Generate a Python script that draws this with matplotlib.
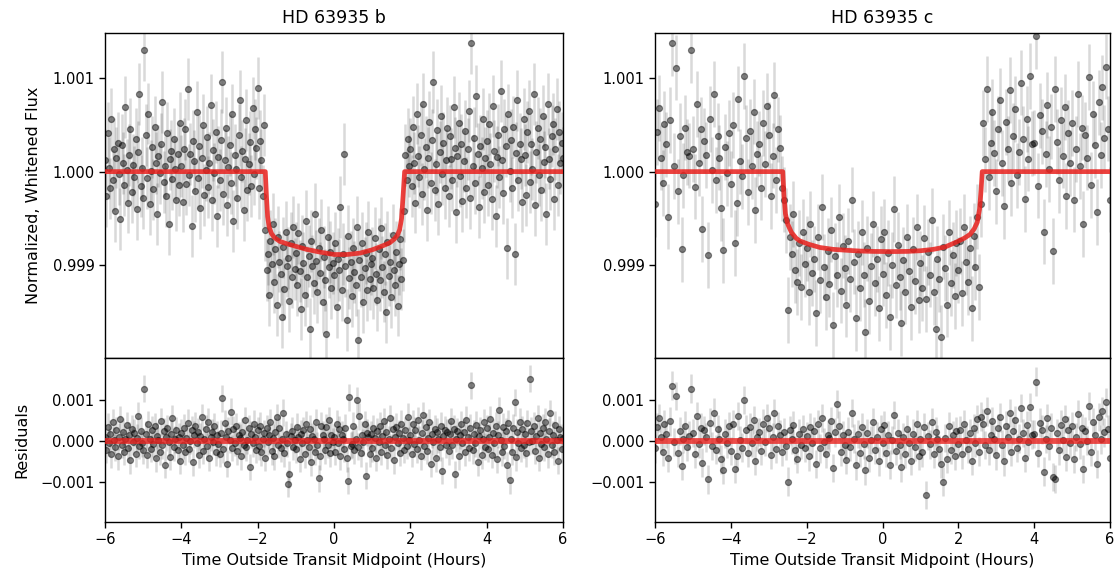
import numpy as np
import matplotlib
matplotlib.use("Agg")
import matplotlib.pyplot as plt

# ---------------- data (flux offsets and residuals in ppm) ----------------
titles = ["HD 63935 b", "HD 63935 c"]
t_start = -6.0
cadence_b = 1.0 / 30.0   # hours
cadence_c = 0.05         # hours
err_b_ppm = 330
err_c_ppm = 350

flux_b_ppm = [
    120, -260, 410, 35, -180, 560, -90, 240, -420, 150, 310, -30, -510, 280, 90, -140, 690, 20, -330, 180, 460, -220, 70, -60, 350, -400, 210, 830, -150, 40,
    -280, 1300, 390, -70, 620, -350, 10, 260, -190, 480, 95, -450, 170, -20, 300, 740, -110, 55, -260, 410, -560, 130, 220, -80, 350, 30, -300, 190, -140, 520,
    60, -320, 240, 450, -130, 880, -40, 190, -580, 330, 110, -210, 640, -70, 270, -390, 150, 500, -250, 20, 370, -160, 90, 710, -300, 230, -20, 420, -470, 160,
    -90, 340, 960, -240, 120, 470, -360, 50, 280, -120, 610, -530, 180, 30, -280, 390, 760, -60, 220, -410, 140, 550, -200, 80, 320, -150, 680, -30, 450, 250,
    890, -180, 330, 120, -260, 500, -620, -1050, -880, -1320, -740, -990, -560, -1180, -830, -1420, -700, -960, -1090, -1550, -810, -1250, -640, -1010, -920, -1380, -760, -1130, -590, -1040,
    -870, -1210, -660, -1060, -1470, -790, -980, -1320, -530, -1120, -900, -1680, -740, -1010, -1190, -450, -950, -1290, -820, -1080, -620, -1390, -910, -1160, -1730, -700, -1020, -860, -1240, -980,
    -1100, -760, -1450, -930, -1050, -380, -1260, -880, 190, -1010, -1580, -690, -1140, -960, -1330, -820, -1070, -1210, -590, -1800, -940, -1120, -760, -1390, -1030, -870, -1260, -640, -1150, -990,
    -920, -1240, -710, -1090, -1370, -830, -1160, -600, -1020, -1280, -880, -1500, -750, -1110, -970, -1340, -680, -1050, -1210, -860, -1430, -990, -720, -1150, -940, -420, 180, -90, 350, 60,
    240, -150, 480, 90, -330, 620, 170, -60, 390, -240, 720, 30, 260, -410, 150, 530, -120, 340, 960, -200, 80, 440, -350, 210, 590, -30, 310, -180, 120, 470,
    -260, 380, 140, -90, 690, 250, -430, 170, 520, -50, 290, -310, 110, 430, -170, 240, 650, -280, 1370, 60, 360, -120, 810, 190, -380, 270, 40, 560, -220, 150,
    330, -140, 510, 80, -290, 700, 220, -470, 160, 390, -60, 860, 120, -230, 450, 270, -820, 610, 10, 340, -170, 480, -880, 200, 760, -90, 300, 140, -320, 560,
    180, -250, 420, 650, -110, 290, 30, 830, -360, 210, 470, -40, 350, -200, 590, 100, 260, -450, 720, 140, -80, 380, 510, -290, 240, 670, -140, 420, 90, 310,
    150,
]

resid_b_ppm = [
    90, -210, 350, -40, 180, -330, 460, 20, -150, 270, -380, 110, 540, -90, 230, -260, 60, 390, -180, 140, -470, 300, -20, 200, -310, 80, 620, -120, 250, -60,
    -230, 1290, 170, -340, 410, 50, -190, 280, -70, 360, -420, 130, 20, -260, 490, -110, 240, -580, 90, 310, -30, -390, 180, 560, -150, 40, 270, -220, 110, -490,
    200, -100, 330, -270, 70, 450, -190, 10, 280, -520, 160, 380, -60, 230, -340, 120, 590, -240, 40, 300, -130, 470, -410, 90, 210, -20, 360, -280, 150, -80,
    -310, 190, 1050, -200, 440, 110, -560, 250, 30, 720, -170, 290, -40, 370, -250, 140, 80, -380, 230, -90, 510, -150, 20, 310, -640, 170, -60, 420, 100, -220,
    260, -130, 380, -280, 50, 190, -410, 320, -20, 140, 460, -250, 80, -370, 230, 590, -90, 310, -180, 40, 700, -300, 170, -60, -1050, -820, 120, 250, -140, 30,
    -200, 350, 90, -440, 180, -60, 270, -330, 410, 20, -150, 300, -520, 120, 60, -270, 460, -110, -920, -380, 380, 160, 40, -230, 340, -90, 510, -300, 140, -20,
    100, -260, 430, -50, 290, -370, 160, 60, -190, 330, -420, -980, 1070, -120, -80, 380, -230, 50, 1000, -140, 610, -300, 150, -30, 410, -850, 200, 90, -310, 170,
    -180, 320, 70, -410, 240, -20, 380, -260, 130, 480, -90, 210, -350, 40, 560, -160, 290, -470, 110, 350, -40, 190, -290, 430, 80, -210, 270, -120, 600, 20,
    150, -310, 420, -70, 260, -200, 510, 30, -380, 190, 640, -130, 350, -240, 80, 460, -560, 170, -20, 300, -420, 230, 40, -150, 380, -730, 120, 280, -90, 210,
    -250, 170, 490, -110, 300, -820, 60, 240, -370, 140, 410, -40, 220, -280, 520, 90, -160, 330, 1370, -230, 180, -60, 400, -520, 130, 270, -350, 50, 460, -140,
    310, -190, 90, 530, -340, 200, -60, 380, -450, 160, 760, 20, -280, 350, -120, 240, -600, 440, -970, 60, -260, 330, 950, -400, 210, -50, 470, -180, 290, -90,
    180, -300, 440, -20, 1530, 250, 10, 380, -240, 120, 560, -410, 200, -70, 330, -150, 470, 60, -330, 240, 690, -90, 150, -260, 400, 30, -480, 290, 100, -200,
    80,
]

flux_c_ppm = [
    -350, 420, 680, 150, -120, 510, 290, -480, 550, 1370, 60, 1110, -210, 380, -830, -40, 470, 210, 170, 1300,
    240, -160, 720, 90, 450, -610, 330, 180, -890, 560, 20, 830, -90, 380, 150, -390, -840, 260, -20, 410,
    -130, 500, -760, -340, 780, 110, -50, 1020, 360, -220, 430, 60, 640, -410, 190, 300, -170, 520, 80, 700,
    390, -260, 170, 820, -90, 450, 250, -180, -300, -520, -1480, -700, -880, -450, -1050, -1180, -760, -1230, -640, -990,
    -820, -1290, -560, -1080, -930, -1510, -700, -1160, -380, -1020, -1340, -850, -1200, -620, -1640, -900, -1100, -480, -1270, -790,
    -1030, -1420, -740, -1150, -300, -960, -1560, -880, -1240, -650, -1100, -1710, -820, -1380, -1010, -560, -1190, -930, -1460, -720,
    -1090, -640, -1320, -870, -1550, -1000, -400, -1210, -780, -1130, -1620, -940, -1280, -700, -1060, -1450, -830, -1170, -590, -1370,
    -980, -1240, -710, -1360, -860, -1100, -520, -1290, -1680, -930, -1150, -1770, -800, -1030, -1420, -650, -1190, -890, -1330, -760,
    -1050, -740, -1300, -590, -970, -1180, -820, -1460, -690, -1020, -480, -1230, -350, 520, 130, 880, -60, 310, 640, 200,
    -210, 460, 760, 90, -370, 530, 240, 870, -120, 380, 670, -40, 210, 950, 350, -290, 560, 140, 1020, 300,
    310, 1450, -150, 600, 430, -640, 190, 710, 30, 480, -850, 880, 320, -90, 550, 170, 690, -260, 410, 90,
    520, -300, 240, 830, 60, 470, -560, 390, 150, 1010, -140, 620, 280, -430, 740, 180, 900, 360, 1120, 460,
    -300,
]

resid_c_ppm = [
    -180, 350, 560, 90, -260, 420, 170, -410, 480, 1360, -30, 1110, -290, 240, -620, 60, 380, -150, 130, 1290,
    200, -320, 610, -70, 330, -530, 260, 90, -940, 450, -120, 700, -210, 300, 40, -450, -700, 180, -60, 370,
    -240, 410, -690, -370, 620, 20, -160, 1010, 280, -300, 350, -40, 520, -480, 110, 220, -250, 430, -20, 560,
    310, -340, 100, 680, -200, 370, 160, -270, 210, -120, -1000, 260, 40, 390, -220, -430, 180, -90, 300, -160,
    120, -380, 340, -60, 250, -560, 410, -180, 570, -20, -310, 160, 70, 480, -660, 210, 910, 380, -270, 140,
    -100, -460, 230, -150, 690, 60, -600, 170, -290, 350, -80, -720, 190, -410, 20, 470, -220, 110, -500, 290,
    -50, 390, -300, 150, -580, 30, 640, -240, 200, -90, -650, 100, -320, 300, -40, -490, 180, -150, 420, -360,
    60, -280, 340, -1330, 120, -80, 460, -310, 230, 50, -190, -560, -1000, 80, -430, 360, -210, 140, -370, 250,
    -70, 260, -330, 410, 30, -190, 200, -480, 320, -40, 540, -260, 600, 430, -100, 730, -230, 150, 490, 40,
    -350, 310, 580, -90, -500, 380, 100, 690, -260, 240, 520, -170, 60, 810, 200, -420, 390, -30, 840, 160,
    170, 1460, -290, 450, 280, -750, 50, 560, -120, 330, -880, -930, 190, -230, 400, 20, 540, -390, 260, -60,
    360, -440, 100, 670, -80, 320, -690, 250, 10, 860, -270, 470, 140, -560, 590, 40, 740, 210, 950, 300,
    -420,
]

# transit model curves (time in hours, flux offset in ppm)
model_b_t = [-6.0, -1.80, -1.77, -1.74, -1.70, -1.64, -1.56, -1.42, -1.24, -0.98, -0.72, -0.36, 0.0, 0.34, 0.68, 1.00, 1.29, 1.46, 1.58, 1.66, 1.72, 1.77, 1.81, 1.85, 6.0]
model_b_f = [0, 0, -260, -480, -590, -660, -705, -745, -770, -800, -830, -860, -885, -885, -870, -835, -790, -760, -720, -680, -620, -500, -260, 0, 0]

model_c_t = [-6.0, -2.63, -2.60, -2.56, -2.50, -2.40, -2.28, -2.18, -1.95, -1.65, -1.30, -0.94, -0.60, -0.24, 0.20, 0.64, 1.00, 1.34, 1.65, 1.96, 2.16, 2.31, 2.42, 2.50, 2.56, 2.60, 2.63, 6.0]
model_c_f = [0, 0, -250, -450, -560, -650, -710, -740, -775, -810, -830, -840, -848, -852, -854, -852, -845, -830, -805, -750, -710, -670, -610, -540, -400, -200, 0, 0]

panels = [
    dict(title=titles[0], flux=flux_b_ppm, resid=resid_b_ppm, cad=cadence_b, err=err_b_ppm, mt=model_b_t, mf=model_b_f),
    dict(title=titles[1], flux=flux_c_ppm, resid=resid_c_ppm, cad=cadence_c, err=err_c_ppm, mt=model_c_t, mf=model_c_f),
]

# ---------------- figure ----------------
W, H = 1116, 577
fig = plt.figure(figsize=(W / 100, H / 100), dpi=100)
plt.rcParams['font.family'] = ['DejaVu Sans']

def fx(px):
    return px / W

def fy(py):
    return 1 - py / H

lefts = [(105, 563), (655, 1110)]
top_y = (33, 358)
bot_y = (358, 522)

red = '#e8201c'

for i, p in enumerate(panels):
    x0, x1 = lefts[i]
    ax_t = fig.add_axes([fx(x0), fy(top_y[1]), fx(x1 - x0), (top_y[1] - top_y[0]) / H])
    ax_b = fig.add_axes([fx(x0), fy(bot_y[1]), fx(x1 - x0), (bot_y[1] - bot_y[0]) / H])

    f = 1.0 + np.array(p['flux']) / 1e6
    r = np.array(p['resid']) / 1e6
    tf = t_start + p['cad'] * np.arange(len(f))
    tr = t_start + p['cad'] * np.arange(len(r))
    e = p['err'] / 1e6

    ax_t.errorbar(tf, f, yerr=e, fmt='none', ecolor='k', elinewidth=1.8, alpha=0.15, zorder=1)
    ax_t.plot(tf, f, 'o', color='k', ms=4.3, mew=0.9, alpha=0.45, zorder=2)
    ax_t.plot(p['mt'], 1.0 + np.array(p['mf']) / 1e6, color=red, lw=3.4, alpha=0.85, zorder=3)

    ax_b.errorbar(tr, r, yerr=e, fmt='none', ecolor='k', elinewidth=1.8, alpha=0.15, zorder=1)
    ax_b.plot(tr, r, 'o', color='k', ms=4.3, mew=0.9, alpha=0.45, zorder=2)
    ax_b.axhline(0.0, color=red, lw=4.2, alpha=0.8, zorder=3)

    ax_t.set_xlim(-6, 6)
    ax_b.set_xlim(-6, 6)
    ax_t.set_ylim(0.99801, 1.00148)
    ax_b.set_ylim(-0.00199, 0.00204)

    ax_t.set_yticks([0.999, 1.000, 1.001])
    ax_t.set_yticklabels(['0.999', '1.000', '1.001'])
    ax_b.set_yticks([-0.001, 0.0, 0.001])
    ax_b.set_yticklabels(['\u22120.001', '0.000', '0.001'])
    ax_t.set_xticks([])
    ax_b.set_xticks([-6, -4, -2, 0, 2, 4, 6])
    ax_b.set_xticklabels(['\u22126', '\u22124', '\u22122', '0', '2', '4', '6'])

    for ax in (ax_t, ax_b):
        ax.tick_params(labelsize=10.5, direction='out', length=4, width=1)
        for s in ax.spines.values():
            s.set_linewidth(1.0)

    ax_t.set_title(p['title'], fontsize=12.5, pad=7)
    ax_b.set_xlabel('Time Outside Transit Midpoint (Hours)', fontsize=11.5, labelpad=4)
    if i == 0:
        ax_t.set_ylabel('Normalized, Whitened Flux', fontsize=11.5, labelpad=8)
        ax_b.set_ylabel('Residuals', fontsize=11.5, labelpad=8)

fig.savefig('out.png', dpi=100)
